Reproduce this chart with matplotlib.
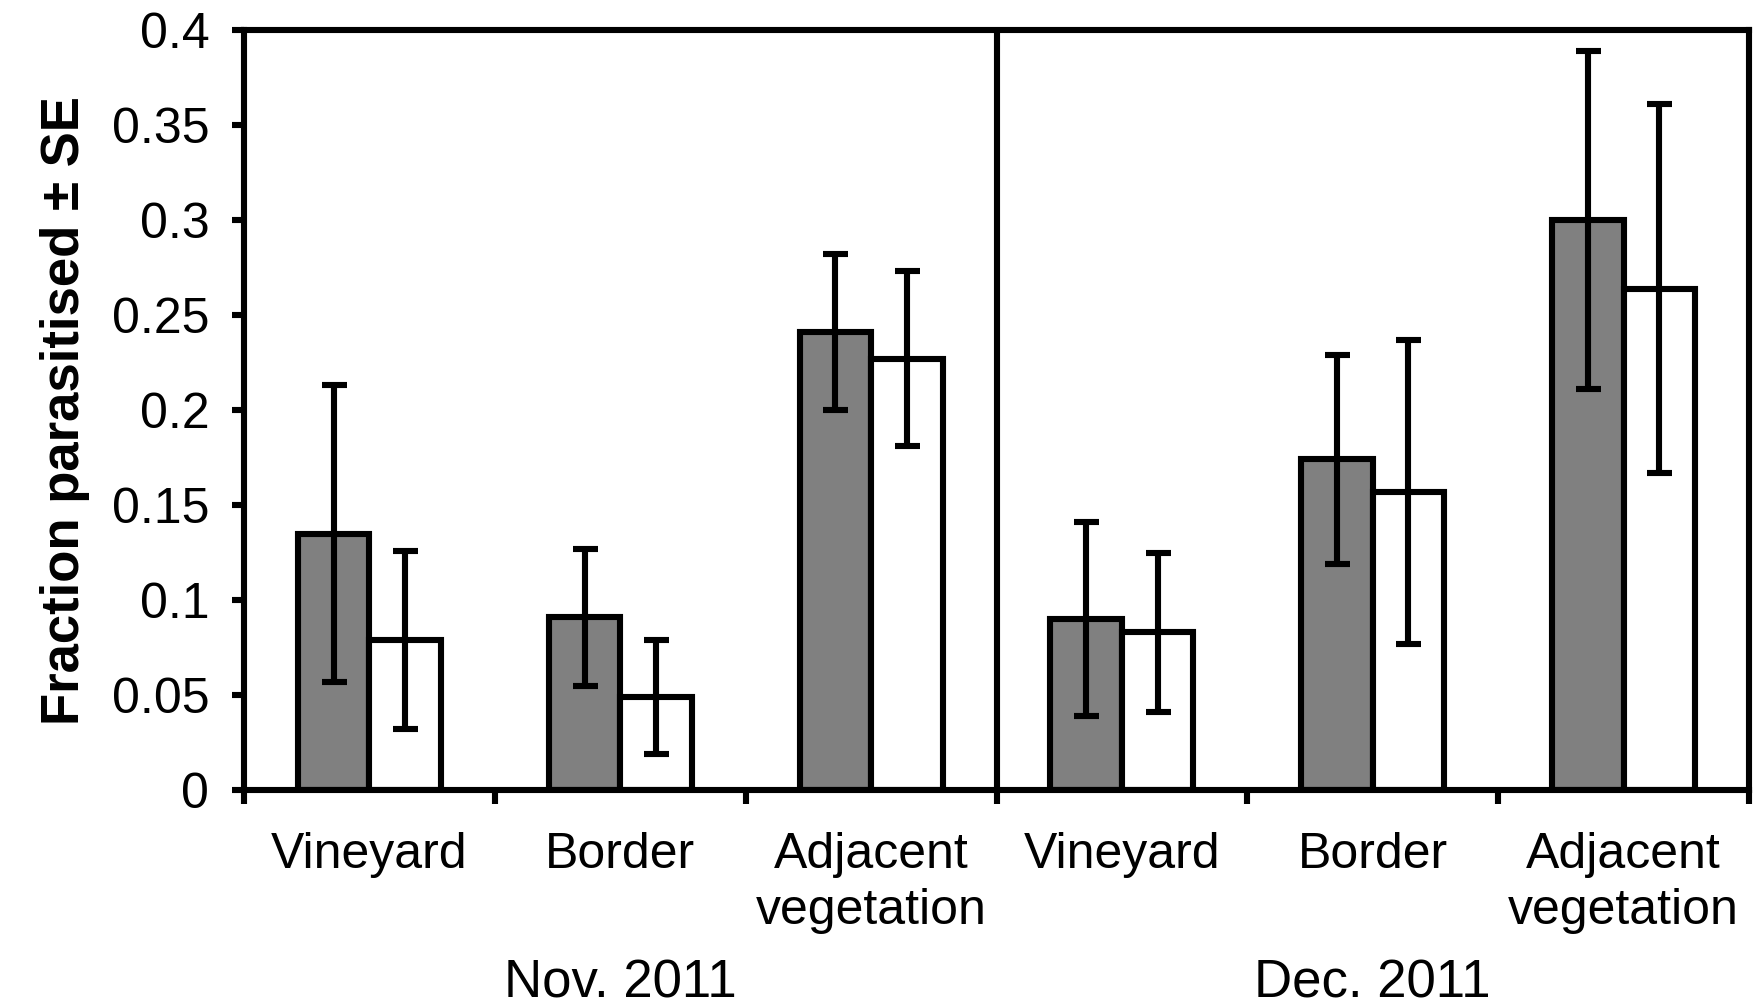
import numpy as np
import matplotlib.pyplot as plt

plt.rcParams['font.family'] = ['Liberation Sans', 'DejaVu Sans']

habitats = ['Vineyard', 'Border', 'Adjacent\nvegetation']
months = ['Nov. 2011', 'Dec. 2011']

# fraction parasitised, two series per habitat (grey / white bars)
grey_mean = [0.135, 0.091, 0.241, 0.090, 0.174, 0.300]
grey_se = [0.078, 0.036, 0.041, 0.051, 0.055, 0.089]
white_mean = [0.079, 0.049, 0.227, 0.083, 0.157, 0.264]
white_se = [0.047, 0.030, 0.046, 0.042, 0.080, 0.097]

fig = plt.figure(figsize=(17.56, 10.06), dpi=100)
ax = fig.add_axes([0.139, 0.2147, 0.857, 0.7553])

lw = 4.4
x = np.arange(len(grey_mean)) + 0.5
w = 0.285
err_kw = dict(ecolor='black', elinewidth=lw, capsize=9, capthick=lw)

ax.bar(x - w/2, grey_mean, w, yerr=grey_se, color='#808080',
       edgecolor='black', linewidth=lw, error_kw=err_kw, zorder=2)
ax.bar(x + w/2, white_mean, w, yerr=white_se, color='white',
       edgecolor='black', linewidth=lw, error_kw=err_kw, zorder=2)

# separator between the two months
ax.axvline(3, color='black', linewidth=lw, zorder=3)

ax.set_xlim(0, 6)
ax.set_ylim(0, 0.4)
ax.set_yticks(np.arange(0, 0.401, 0.05))
ax.set_yticklabels(['0', '0.05', '0.1', '0.15', '0.2', '0.25', '0.3', '0.35', '0.4'])

# boundaries get tick marks, labels sit at centres
ax.set_xticks(np.arange(0, 7))
ax.set_xticklabels([])
ax.set_xticks(x, minor=True)
ax.set_xticklabels(habitats * 2, minor=True, linespacing=1.3)
ax.tick_params(axis='x', which='minor', length=0, pad=30, labelsize=36)
ax.tick_params(axis='x', which='major', length=10, width=lw, direction='out')
ax.tick_params(axis='y', length=9, width=lw, direction='out', pad=16, labelsize=36)

for s in ax.spines.values():
    s.set_linewidth(lw)

ax.set_ylabel('Fraction parasitised ± SE', fontsize=38, fontweight='bold', labelpad=16)

for i, m in enumerate(months):
    ax.text(1.5 + 3*i, -0.102, m, transform=ax.transData, ha='center',
            va='center', fontsize=38, clip_on=False)

fig.savefig('out.png', dpi=100)
